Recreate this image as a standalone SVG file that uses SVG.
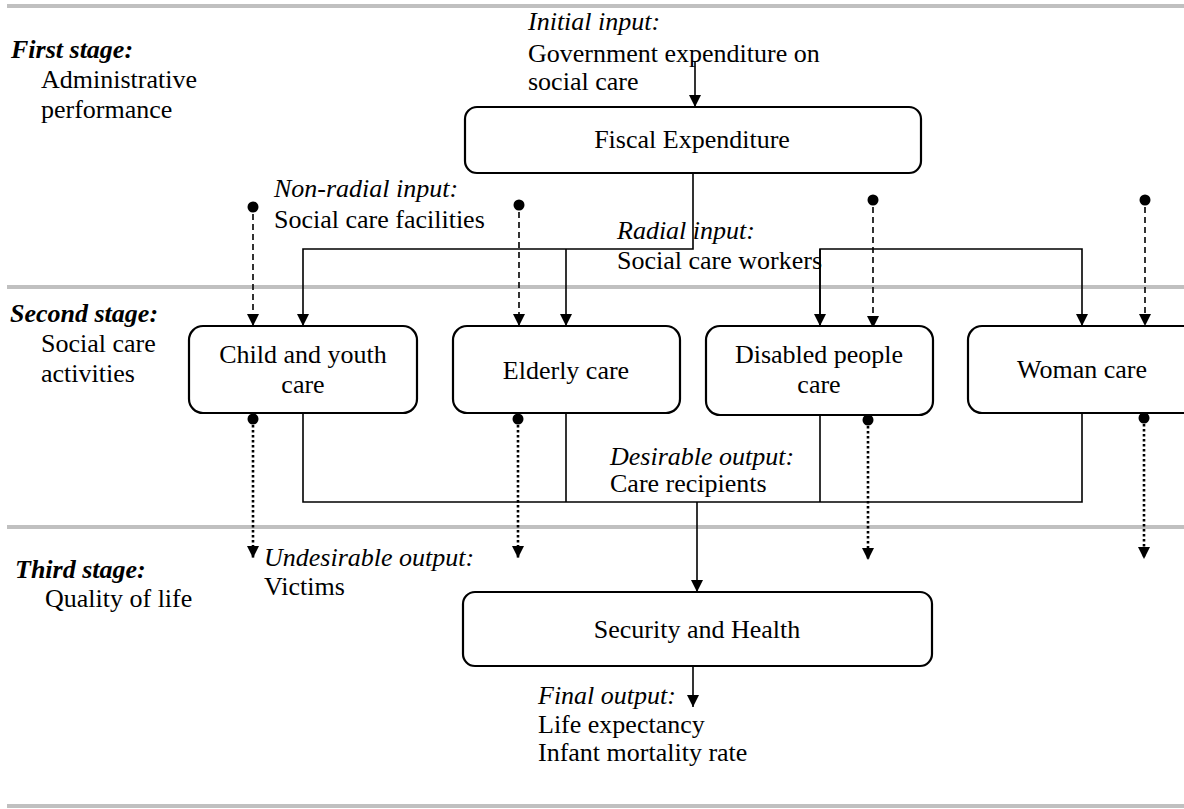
<svg xmlns="http://www.w3.org/2000/svg" width="1184" height="809" viewBox="0 0 1184 809">
<style>
text{font-family:'Liberation Serif','Times New Roman',Times,serif;font-size:26px;fill:#000}
.it{font-style:italic}
.bi{font-style:italic;font-weight:bold}
.mid{text-anchor:middle}
.box{fill:#fff;stroke:#000;stroke-width:2.2}
.sep{stroke:#c0c0c0;stroke-width:4}
.ln{fill:none;stroke:#000;stroke-width:1.6}
.dash{fill:none;stroke:#000;stroke-width:1.6;stroke-dasharray:6 4}
.dot{fill:none;stroke:#000;stroke-width:2.6;stroke-dasharray:2.5 2.5}
</style>
<defs>
<marker id="ah" viewBox="0 0 12 12" markerWidth="12" markerHeight="12" refX="12" refY="6" orient="auto" markerUnits="userSpaceOnUse">
<path d="M0,0 L12,6 L0,12 z" fill="#000"/>
</marker>
</defs>
<rect width="1184" height="809" fill="#fff"/>
<g id="separators">
<line class="sep" x1="7" y1="6" x2="1184" y2="6"/>
<line class="sep" x1="7" y1="287" x2="1184" y2="287"/>
<line class="sep" x1="7" y1="527" x2="1184" y2="527"/>
<line class="sep" x1="7" y1="806" x2="1184" y2="806"/>
</g>
<g id="stage-labels">
<text class="bi" x="11" y="58">First stage:</text>
<text x="41" y="88">Administrative</text>
<text x="41" y="118">performance</text>
<text class="bi" x="10" y="322">Second stage:</text>
<text x="41" y="352">Social care</text>
<text x="41" y="382">activities</text>
<text class="bi" x="15" y="578">Third stage:</text>
<text x="45" y="607">Quality of life</text>
</g>
<g id="labels">
<text class="it" x="528" y="30">Initial input:</text>
<text x="528" y="62">Government expenditure on</text>
<text x="528" y="90">social care</text>
<text class="it" x="274" y="197">Non-radial input:</text>
<text x="274" y="228">Social care facilities</text>
<text class="it" x="617" y="239">Radial input:</text>
<text x="617" y="269">Social care workers</text>
<text class="it" x="610" y="465">Desirable output:</text>
<text x="610" y="492">Care recipients</text>
<text class="it" x="264" y="566">Undesirable output:</text>
<text x="264" y="595">Victims</text>
<text class="it" x="538" y="704">Final output:</text>
<text x="538" y="733">Life expectancy</text>
<text x="538" y="761">Infant mortality rate</text>
</g>
<g id="connectors">
<line class="ln" x1="695" y1="62" x2="695" y2="107" marker-end="url(#ah)"/>
<polyline class="ln" points="693,173 693,249 303,249 303,326" marker-end="url(#ah)"/>
<line class="ln" x1="566" y1="249" x2="566" y2="326" marker-end="url(#ah)"/>
<polyline class="ln" points="820,326 820,249 1082,249 1082,326" marker-end="url(#ah)"/>
<line class="ln" x1="820" y1="249" x2="820" y2="326" marker-end="url(#ah)"/>
<polyline class="ln" points="303,413 303,502 1082,502 1082,413"/>
<line class="ln" x1="566" y1="413" x2="566" y2="502"/>
<line class="ln" x1="820" y1="415" x2="820" y2="502"/>
<line class="ln" x1="697" y1="502" x2="697" y2="592" marker-end="url(#ah)"/>
<line class="ln" x1="693" y1="665" x2="693" y2="707" marker-end="url(#ah)"/>
<g id="nonradial-inputs">
<circle cx="253" cy="207" r="5.5"/>
<line class="dash" x1="253" y1="214" x2="253" y2="326" marker-end="url(#ah)"/>
<circle cx="519" cy="205" r="5.5"/>
<line class="dash" x1="519" y1="212" x2="519" y2="326" marker-end="url(#ah)"/>
<circle cx="873" cy="200" r="5.5"/>
<line class="dash" x1="873" y1="207" x2="873" y2="328" marker-end="url(#ah)"/>
<circle cx="1145" cy="200" r="5.5"/>
<line class="dash" x1="1145" y1="207" x2="1145" y2="326" marker-end="url(#ah)"/>
</g>
<g id="undesirable-outputs">
<circle cx="253" cy="419" r="5.5"/>
<line class="dot" x1="253" y1="425" x2="253" y2="558" marker-end="url(#ah)"/>
<circle cx="518" cy="419" r="5.5"/>
<line class="dot" x1="518" y1="425" x2="518" y2="558" marker-end="url(#ah)"/>
<circle cx="868" cy="420" r="5.5"/>
<line class="dot" x1="868" y1="426" x2="868" y2="560" marker-end="url(#ah)"/>
<circle cx="1144" cy="418" r="5.5"/>
<line class="dot" x1="1144" y1="424" x2="1144" y2="559" marker-end="url(#ah)"/>
</g>
</g>
<g id="fiscal">
<rect class="box" x="465" y="107" width="456" height="66" rx="12"/>
<text class="mid" x="692" y="148">Fiscal Expenditure</text>
</g>
<g id="child">
<rect class="box" x="189" y="326" width="228" height="87" rx="14"/>
<text class="mid" x="303" y="363">Child and youth</text>
<text class="mid" x="303" y="393">care</text>
</g>
<g id="elderly">
<rect class="box" x="453" y="326" width="227" height="87" rx="14"/>
<text class="mid" x="566" y="379">Elderly care</text>
</g>
<g id="disabled">
<rect class="box" x="706" y="326" width="227" height="89" rx="14"/>
<text class="mid" x="819" y="363">Disabled people</text>
<text class="mid" x="819" y="393">care</text>
</g>
<g id="woman">
<rect class="box" x="968" y="326" width="230" height="87" rx="14"/>
<text class="mid" x="1082" y="378">Woman care</text>
</g>
<g id="security">
<rect class="box" x="463" y="592" width="469" height="74" rx="12"/>
<text class="mid" x="697" y="638">Security and Health</text>
</g>
</svg>
